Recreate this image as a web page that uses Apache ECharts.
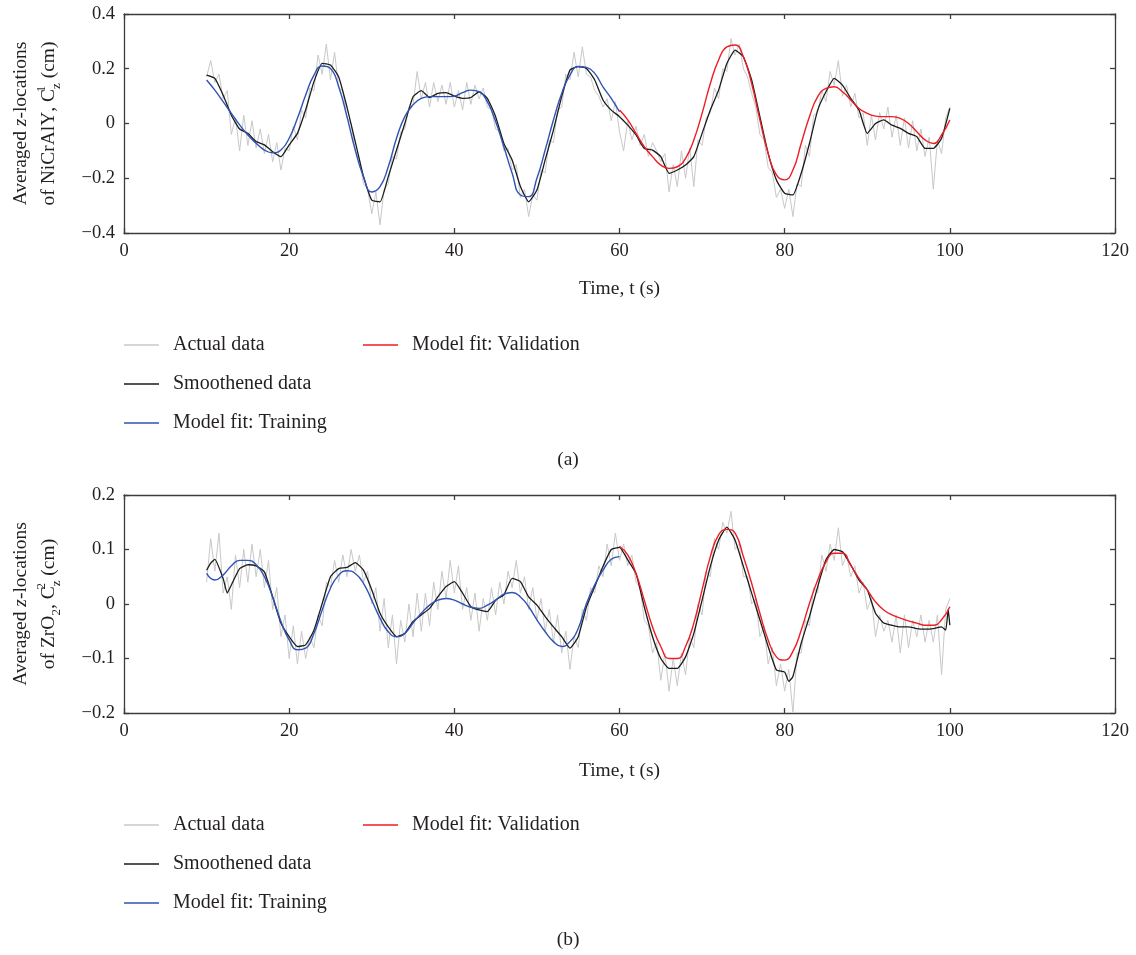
<!DOCTYPE html>
<html><head><meta charset="utf-8">
<script src="https://cdn.jsdelivr.net/npm/echarts@6/dist/echarts.min.js"></script>
<style>html,body{margin:0;padding:0;background:#fff}#c{width:1136px;height:955px}</style>
</head><body><div id="c"></div><script>
// ---------- DATA ----------
const xTicks = [0, 20, 40, 60, 80, 100, 120];
const seriesNames = ['Actual data', 'Smoothened data', 'Model fit: Training', 'Model fit: Validation'];

// time grids (s)
const timeActual = Array.from({length: 181}, (_, i) => 10 + i * 0.5);
const timeTrain = Array.from({length: 51}, (_, i) => 10 + i);
const timeValid = Array.from({length: 41}, (_, i) => 60 + i);
const timeSmoothA = Array.from({length: 91}, (_, i) => 10 + i);

// Panel (a): NiCrAlY
const actualA = [0.17,0.23,0.15,0.18,0.09,0.12,-0.04,0.02,-0.10,0.03,-0.08,0.01,-0.09,-0.02,-0.11,-0.04,-0.14,-0.07,-0.17,-0.09,
 -0.10,-0.01,-0.06,0.05,0.02,0.13,0.12,0.25,0.18,0.29,0.16,0.26,0.13,0.12,0.02,0.0,-0.10,-0.13,-0.22,-0.24,
 -0.33,-0.25,-0.37,-0.24,-0.22,-0.12,-0.13,-0.03,-0.02,0.06,0.07,0.19,0.09,0.15,0.06,0.15,0.08,0.14,0.07,0.15,
 0.06,0.12,0.05,0.15,0.07,0.14,0.09,0.13,0.06,0.05,-0.02,-0.03,-0.10,-0.09,-0.17,-0.15,-0.27,-0.24,-0.34,-0.26,
 -0.28,-0.17,-0.18,-0.06,-0.07,0.05,0.06,0.18,0.16,0.26,0.17,0.28,0.18,0.17,0.12,0.10,0.06,0.09,0.01,0.08,
 -0.03,-0.10,0.01,-0.06,-0.01,-0.08,-0.04,-0.12,-0.07,-0.10,-0.14,-0.11,-0.25,-0.15,-0.23,-0.10,-0.20,-0.09,-0.23,-0.06,
 -0.08,0.02,0.04,0.13,0.09,0.20,0.19,0.31,0.25,0.29,0.20,0.17,0.11,0.06,-0.04,-0.06,-0.16,-0.18,-0.27,-0.24,
 -0.31,-0.24,-0.34,-0.22,-0.23,-0.08,-0.12,0.03,0.04,0.12,0.08,0.19,0.14,0.23,0.10,0.14,0.06,0.11,0.02,0.04,
 -0.08,0.03,-0.06,0.04,-0.02,0.06,-0.05,0.03,-0.08,0.02,-0.09,0.01,-0.10,-0.02,-0.12,-0.05,-0.24,-0.06,-0.11,0.02,0.06];
const smoothA = [0.177,0.165,0.104,0.03,-0.02,-0.036,-0.066,-0.078,-0.103,-0.121,
 -0.078,-0.036,0.05,0.153,0.22,0.214,0.17,0.06,-0.066,-0.194,
 -0.28,-0.286,-0.194,-0.097,0,0.098,0.12,0.095,0.11,0.113,
 0.1,0.092,0.095,0.116,0.092,0.025,-0.073,-0.133,-0.23,-0.286,
 -0.243,-0.133,-0.024,0.098,0.195,0.208,0.201,0.159,0.086,0.049,
 0.025,-0.006,-0.042,-0.091,-0.097,-0.121,-0.182,-0.17,-0.152,-0.121,
 -0.036,0.049,0.122,0.219,0.268,0.244,0.159,0.025,-0.109,-0.206,
 -0.255,-0.261,-0.182,-0.073,0.049,0.116,0.165,0.14,0.092,0.049,
 -0.036,0,0.013,-0.006,-0.018,-0.036,-0.048,-0.091,-0.091,-0.054,0.055];
const trainA = [0.159,0.122,0.08,0.037,-0.005,-0.042,-0.072,-0.097,-0.107,-0.097,
 -0.054,0.019,0.104,0.177,0.21,0.201,0.134,0.025,-0.097,-0.194,
 -0.25,-0.231,-0.158,-0.054,0.025,0.068,0.092,0.098,0.098,0.098,
 0.1,0.113,0.122,0.116,0.08,0.007,-0.085,-0.182,-0.261,-0.267,
 -0.2,-0.097,0.013,0.11,0.177,0.208,0.205,0.183,0.134,0.092,0.043];
const validA = [0.049,0.013,-0.036,-0.085,-0.121,-0.152,-0.164,-0.158,-0.127,-0.06,
 0.037,0.146,0.232,0.28,0.287,0.244,0.146,0.013,-0.109,-0.188,
 -0.206,-0.17,-0.073,0.025,0.098,0.128,0.134,0.116,0.086,0.055,
 0.037,0.027,0.025,0.025,0.019,0,-0.03,-0.06,-0.073,-0.042,0.013];

// Panel (b): ZrO2
const actualB = [0.04,0.12,0.06,0.13,0.02,0.05,-0.01,0.09,0.03,0.10,0.04,0.11,0.05,0.10,0.03,0.08,-0.01,0.03,-0.06,-0.02,
 -0.10,-0.04,-0.11,-0.05,-0.10,-0.06,-0.08,-0.02,-0.04,0.04,0.03,0.08,0.04,0.09,0.05,0.10,0.06,0.09,0.04,0.06,
 0.0,0.03,-0.05,0.01,-0.08,-0.02,-0.11,-0.03,-0.07,0.0,-0.06,0.02,-0.05,0.02,-0.04,0.04,-0.01,0.06,0.01,0.08,
 0.02,0.07,-0.01,0.03,-0.03,0.02,-0.05,0.01,-0.03,0.03,-0.02,0.04,0.0,0.06,0.03,0.08,0.02,0.05,-0.01,0.03,
 -0.03,0.01,-0.05,-0.01,-0.07,-0.02,-0.09,-0.05,-0.12,-0.06,-0.08,-0.01,-0.03,0.03,0.02,0.07,0.05,0.11,0.07,0.13,
 0.08,0.11,0.07,0.09,0.04,0.03,-0.03,-0.04,-0.09,-0.07,-0.14,-0.09,-0.16,-0.10,-0.15,-0.09,-0.13,-0.06,-0.08,0.0,
 -0.02,0.06,0.05,0.12,0.10,0.15,0.13,0.17,0.10,0.11,0.05,0.05,0.0,0.01,-0.06,-0.04,-0.11,-0.08,-0.15,-0.11,
 -0.16,-0.12,-0.20,-0.09,-0.09,-0.03,-0.04,0.03,0.02,0.09,0.06,0.11,0.08,0.14,0.07,0.09,0.05,0.07,0.02,0.04,
 -0.01,0.01,-0.06,-0.02,-0.05,-0.03,-0.07,-0.02,-0.09,-0.02,-0.08,-0.03,-0.06,-0.02,-0.07,-0.03,-0.07,-0.02,-0.13,-0.01,0.01];
const smoothBTime = [10,10.5,11,12,12.5,13,14,15,16,17,18,19,20,21,22,23,24,25,26,27,28,29,30,31,32,33,34,35,36,37,38,39,40,
 41,42,43,44,45,46,47,48,49,50,51,52,53,54,55,56,57,58,59,60,61,62,63,64,65,66,67,68,69,70,71,72,73,74,75,76,77,78,79,80,80.5,81,
 82,83,84,85,86,87,88,89,90,91,92,93,94,95,96,97,98,99,99.5,99.8,100];
const smoothB = [0.062,0.075,0.082,0.047,0.02,0.035,0.065,0.072,0.07,0.059,0.013,-0.035,-0.06,-0.078,-0.075,-0.048,0.001,0.05,0.065,0.067,
 0.076,0.062,0.026,-0.017,-0.042,-0.06,-0.054,-0.032,-0.02,-0.008,0.013,0.032,0.041,
 0.02,-0.005,-0.011,-0.014,0.007,0.017,0.047,0.041,0.013,-0.002,-0.023,-0.042,-0.06,-0.081,-0.06,-0.005,0.032,0.069,0.1,0.104,
 0.081,0.056,-0.005,-0.06,-0.1,-0.118,-0.118,-0.097,-0.054,0.007,0.069,0.117,0.141,0.117,0.069,0.02,-0.029,-0.078,-0.121,-0.125,-0.142,-0.133,
 -0.072,-0.023,0.032,0.081,0.1,0.096,0.072,0.044,0.026,-0.017,-0.035,-0.039,-0.042,-0.042,-0.045,-0.046,-0.045,-0.042,-0.048,-0.01,-0.039];
const trainB = [0.056,0.044,0.053,0.07,0.08,0.08,0.072,0.05,0.013,-0.032,
 -0.066,-0.084,-0.081,-0.054,-0.011,0.029,0.053,0.061,0.056,0.038,
 0.007,-0.026,-0.051,-0.06,-0.054,-0.035,-0.017,-0.002,0.007,0.01,
 0.007,0,-0.006,-0.008,-0.002,0.007,0.018,0.021,0.013,-0.005,
 -0.029,-0.051,-0.069,-0.078,-0.069,-0.045,0.001,0.035,0.062,0.082,0.087];
const validB = [0.106,0.09,0.056,0.007,-0.042,-0.078,-0.1,-0.1,-0.078,-0.035,
 0.026,0.087,0.127,0.137,0.13,0.087,0.038,-0.017,-0.066,-0.097,
 -0.103,-0.087,-0.048,0.001,0.044,0.077,0.093,0.093,0.071,0.047,
 0.026,0.004,-0.011,-0.02,-0.026,-0.031,-0.035,-0.039,-0.039,-0.029,-0.005];

// ---------- CHART ----------
const FONT = '"Liberation Serif", "DejaVu Serif", serif';
const TXT = '#231f20';
const AX = '#3c3c3c';
const COLORS = {actual: '#c8c8c8', smooth: '#1b1b1b', train: '#2f52b4', valid: '#ee1d23'};
const zip = (t, v) => t.map((x, i) => [x, v[i]]);

function fmtY(v) {
  if (Math.abs(v) < 1e-9) return '0';
  return (v < 0 ? '\u2212' : '') + Math.abs(v).toFixed(1);
}
const axLine = {onZero: false, lineStyle: {color: AX, width: 1.3}};
const axTick = {inside: true, length: 5, lineStyle: {color: AX, width: 1.3}};

function xAx(grid, pos, labels) {
  return {type: 'value', gridIndex: grid, position: pos, min: 0, max: 120, interval: 20,
    axisLine: axLine, axisTick: axTick, splitLine: {show: false},
    axisLabel: {show: labels, color: TXT, fontSize: 18.5, fontFamily: FONT, margin: 9}};
}
function yAx(grid, pos, labels, mn, mx, iv) {
  return {type: 'value', gridIndex: grid, position: pos, min: mn, max: mx, interval: iv,
    axisLine: axLine, axisTick: axTick, splitLine: {show: false},
    axisLabel: {show: labels, color: TXT, fontSize: 18.5, fontFamily: FONT, margin: 9, formatter: fmtY}};
}
function line(name, data, color, xi, yi, w, smooth, z) {
  return {name, type: 'line', data, xAxisIndex: xi, yAxisIndex: yi, showSymbol: false, symbol: 'none',
    smooth: smooth, color, itemStyle: {color}, lineStyle: {color, width: w}, z, silent: true, animation: false};
}
const legendBase = {orient: 'vertical', icon: 'rect', itemWidth: 35, itemHeight: 1.5, itemGap: 19, padding: 0,
  selectedMode: false,
  textStyle: {fontSize: 20, fontFamily: FONT, color: TXT, lineHeight: 20, padding: [0, 0, 0, 9]}};

const rich = {
  it: {fontStyle: 'italic', fontSize: 19.5, fontFamily: FONT, fill: TXT, lineHeight: 28},
  n: {fontSize: 19.5, fontFamily: FONT, fill: TXT, lineHeight: 28},
  sup: {fontSize: 13, fontFamily: FONT, fill: TXT, lineHeight: 12, verticalAlign: 'top', width: 0, align: 'left'},
  sub: {fontSize: 13, fontFamily: FONT, fill: TXT, lineHeight: 12, verticalAlign: 'bottom'}
};
function yTitle(y, l2a, supTxt) {
  return {type: 'text', x: 35, y: y, rotation: Math.PI / 2, silent: true,
    style: {text: '{n|Averaged }{it|z}{n|-locations}\n' + l2a + '{n|, C}{sup|' + supTxt + '}{sub|z}{n| (cm)}',
      rich, align: 'center', verticalAlign: 'middle', fontSize: 19.5, fontFamily: FONT, fill: TXT}};
}
function plainText(x, y, text) {
  return {type: 'text', x, y, silent: true,
    style: {text, align: 'center', verticalAlign: 'middle', fontSize: 19.5, fontFamily: FONT, fill: TXT}};
}

const option = {
  backgroundColor: '#fff',
  animation: false,
  grid: [
    {left: 124, top: 14, width: 991, height: 219},
    {left: 124, top: 495, width: 991, height: 218}
  ],
  xAxis: [xAx(0, 'bottom', true), xAx(0, 'top', false), xAx(1, 'bottom', true), xAx(1, 'top', false)],
  yAxis: [yAx(0, 'left', true, -0.4, 0.4, 0.2), yAx(0, 'right', false, -0.4, 0.4, 0.2),
          yAx(1, 'left', true, -0.2, 0.2, 0.1), yAx(1, 'right', false, -0.2, 0.2, 0.1)],
  legend: [
    Object.assign({}, legendBase, {left: 124, top: 335, data: seriesNames.slice(0, 3)}),
    Object.assign({}, legendBase, {left: 363, top: 335, data: [seriesNames[3]]}),
    Object.assign({}, legendBase, {left: 124, top: 815, data: seriesNames.slice(0, 3)}),
    Object.assign({}, legendBase, {left: 363, top: 815, data: [seriesNames[3]]})
  ],
  series: [
    line(seriesNames[0], zip(timeActual, actualA), COLORS.actual, 0, 0, 1, false, 1),
    line(seriesNames[1], zip(timeSmoothA, smoothA), COLORS.smooth, 0, 0, 1.3, 0.15, 2),
    line(seriesNames[2], zip(timeTrain, trainA), COLORS.train, 0, 0, 1.4, true, 3),
    line(seriesNames[3], zip(timeValid, validA), COLORS.valid, 0, 0, 1.4, true, 4),
    line(seriesNames[0], zip(timeActual, actualB), COLORS.actual, 2, 2, 1, false, 1),
    line(seriesNames[1], zip(smoothBTime, smoothB), COLORS.smooth, 2, 2, 1.3, 0.15, 2),
    line(seriesNames[2], zip(timeTrain, trainB), COLORS.train, 2, 2, 1.4, true, 3),
    line(seriesNames[3], zip(timeValid, validB), COLORS.valid, 2, 2, 1.4, true, 4)
  ],
  graphic: [
    yTitle(123.5, '{n|of NiCrAlY}', '1'),
    yTitle(604, '{n|of ZrO}{sub|2}', '2'),
    plainText(619.5, 289, 'Time, t (s)'),
    plainText(619.5, 771, 'Time, t (s)'),
    plainText(568, 460, '(a)'),
    plainText(568, 940, '(b)')
  ]
};
const chart = echarts.init(document.getElementById('c'), null, {renderer: 'canvas'});
chart.setOption(option);
</script></body></html>
